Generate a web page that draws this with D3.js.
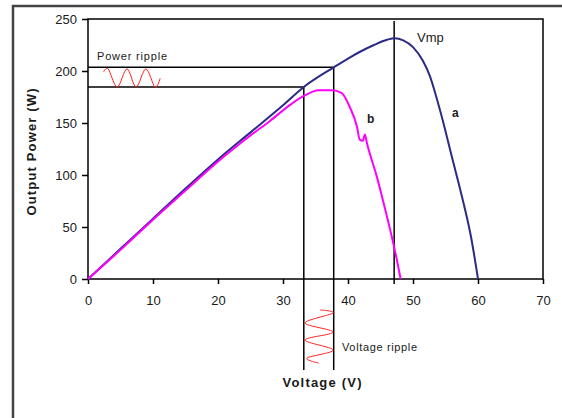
<!DOCTYPE html>
<html>
<head>
<meta charset="utf-8">
<script src="https://cdn.jsdelivr.net/npm/d3@7/dist/d3.min.js"></script>
<style>
  body { margin: 0; background: #fff; }
  svg text { font-family: "Liberation Sans", Arial, sans-serif; fill: #1a1a1a; }
  .axis text { font-size: 13px; }
  .axis line { stroke: #000; stroke-width: 1.5px; }
</style>
</head>
<body>
<div id="chart"></div>
<script>
// curve a: panel without partial shading
var voltA = [0, 5, 10, 15, 20, 25, 30, 33.2, 37.8, 40, 42, 44, 46, 47.2, 48.5, 50, 51.5, 52.6, 53.5, 54.6, 56, 57.5, 59, 60];
var powerA = [0, 29, 58, 87, 115, 141, 167, 184.6, 203.5, 212, 219, 225, 230, 231.6, 229.5, 223, 210, 195, 177, 152, 117, 80, 38, 0];

// curve b: panel with the ripple dip
var voltB = [0, 5, 10, 15, 20, 25, 28, 31, 33.2, 35.5, 37.5, 39, 40.3, 41.4, 41.8, 42.3, 42.6, 42.9, 44.5, 45.2, 46.5, 47.5, 48.1];
var powerB = [0, 28, 57, 85, 113, 138, 152, 167, 176, 181.5, 181.5, 179, 165, 146, 134, 133, 139, 131, 97, 80, 47, 19, 0];

// power ripple (drawn left of the axis text)
var pRippleV = [2.4, 3.1, 4.5, 6.0, 7.4, 8.9, 10.3, 11.1];
var pRippleP = [199, 202, 184.6, 202, 184.6, 202, 184.6, 193];

// voltage ripple (below the x axis)
var vRippleV = [35.7, 37.7, 33.4, 37.7, 33.4, 37.7, 33.7, 35.5];
var vRippleP = [-29.8, -32.7, -42.3, -51, -58.7, -68.3, -76, -80.8];

var xTicks = [0, 10, 20, 30, 40, 50, 60, 70];
var yTicks = [0, 50, 100, 150, 200, 250];

var vLow = 33.2, vHigh = 37.8, pLow = 184.6, pHigh = 203.5, vmp = 47.1;

var width = 562, height = 418;

var x = d3.scaleLinear().domain([0, 70]).range([88, 543]);
var y = d3.scaleLinear().domain([0, 250]).range([279, 19]);

var svg = d3.select("#chart").append("svg")
    .attr("width", width)
    .attr("height", height);

// outer figure frame (only top and left show)
svg.append("path")
    .attr("d", "M13," + height + "V6H" + width)
    .attr("fill", "none")
    .attr("stroke", "#444")
    .attr("stroke-width", 2.5);

// plot box
svg.append("rect")
    .attr("x", x(0)).attr("y", y(250))
    .attr("width", x(70) - x(0)).attr("height", y(0) - y(250))
    .attr("fill", "none")
    .attr("stroke", "#000")
    .attr("stroke-width", 1.5);

var xAxis = d3.axisBottom(x).tickValues(xTicks).tickSize(5).tickPadding(12).tickSizeOuter(0);
var yAxis = d3.axisLeft(y).tickValues(yTicks).tickSize(6).tickPadding(5).tickSizeOuter(0);

svg.append("g")
    .attr("class", "axis")
    .attr("transform", "translate(0," + y(0) + ")")
    .call(xAxis)
    .call(function (g) { g.select(".domain").remove(); });

svg.append("g")
    .attr("class", "axis")
    .attr("transform", "translate(" + x(0) + ",0)")
    .call(yAxis)
    .call(function (g) { g.select(".domain").remove(); });

// guide lines
function seg(x1, y1, x2, y2) {
    svg.append("line")
        .attr("x1", x1).attr("y1", y1).attr("x2", x2).attr("y2", y2)
        .attr("stroke", "#000")
        .attr("stroke-width", 1.5);
}
seg(x(0), y(pHigh), x(vHigh), y(pHigh));
seg(x(0), y(pLow), x(vLow), y(pLow));
seg(x(vLow), y(pLow), x(vLow), 370);
seg(x(vHigh), y(pHigh), x(vHigh), 370);
seg(x(vmp), 21, x(vmp), 284);

var line = d3.line()
    .x(function (d) { return x(d[0]); })
    .y(function (d) { return y(d[1]); })
    .curve(d3.curveMonotoneX);

svg.append("path")
    .attr("d", line(d3.zip(voltA, powerA)))
    .attr("fill", "none")
    .attr("stroke", "#2b2b86")
    .attr("stroke-width", 2);

svg.append("path")
    .attr("d", line(d3.zip(voltB, powerB)))
    .attr("fill", "none")
    .attr("stroke", "#ff00ff")
    .attr("stroke-width", 2);

var ripple = d3.line()
    .x(function (d) { return x(d[0]); })
    .y(function (d) { return y(d[1]); })
    .curve(d3.curveCardinal);

svg.append("path")
    .attr("d", ripple(d3.zip(pRippleV, pRippleP)))
    .attr("fill", "none")
    .attr("stroke", "#ff2020")
    .attr("stroke-width", 1);

svg.append("path")
    .attr("d", ripple(d3.zip(vRippleV, vRippleP)))
    .attr("fill", "none")
    .attr("stroke", "#ff2020")
    .attr("stroke-width", 1);

// labels
svg.append("text")
    .attr("x", 97).attr("y", 60)
    .attr("font-size", 11)
    .attr("textLength", 70)
    .text("Power ripple");

svg.append("text")
    .attr("x", 342).attr("y", 351)
    .attr("font-size", 11)
    .attr("textLength", 75)
    .text("Voltage ripple");

svg.append("text")
    .attr("x", 417).attr("y", 42)
    .attr("font-size", 13)
    .text("Vmp");

svg.append("text")
    .attr("x", 452).attr("y", 117)
    .attr("font-size", 12)
    .attr("font-weight", "bold")
    .text("a");

svg.append("text")
    .attr("x", 367).attr("y", 123)
    .attr("font-size", 12)
    .attr("font-weight", "bold")
    .text("b");

svg.append("text")
    .attr("x", 322).attr("y", 387)
    .attr("text-anchor", "middle")
    .attr("font-size", 13)
    .attr("font-weight", "bold")
    .attr("textLength", 79)
    .text("Voltage (V)");

svg.append("text")
    .attr("transform", "translate(36,152) rotate(-90)")
    .attr("text-anchor", "middle")
    .attr("font-size", 13)
    .attr("font-weight", "bold")
    .attr("textLength", 127)
    .text("Output Power (W)");
</script>
</body>
</html>
